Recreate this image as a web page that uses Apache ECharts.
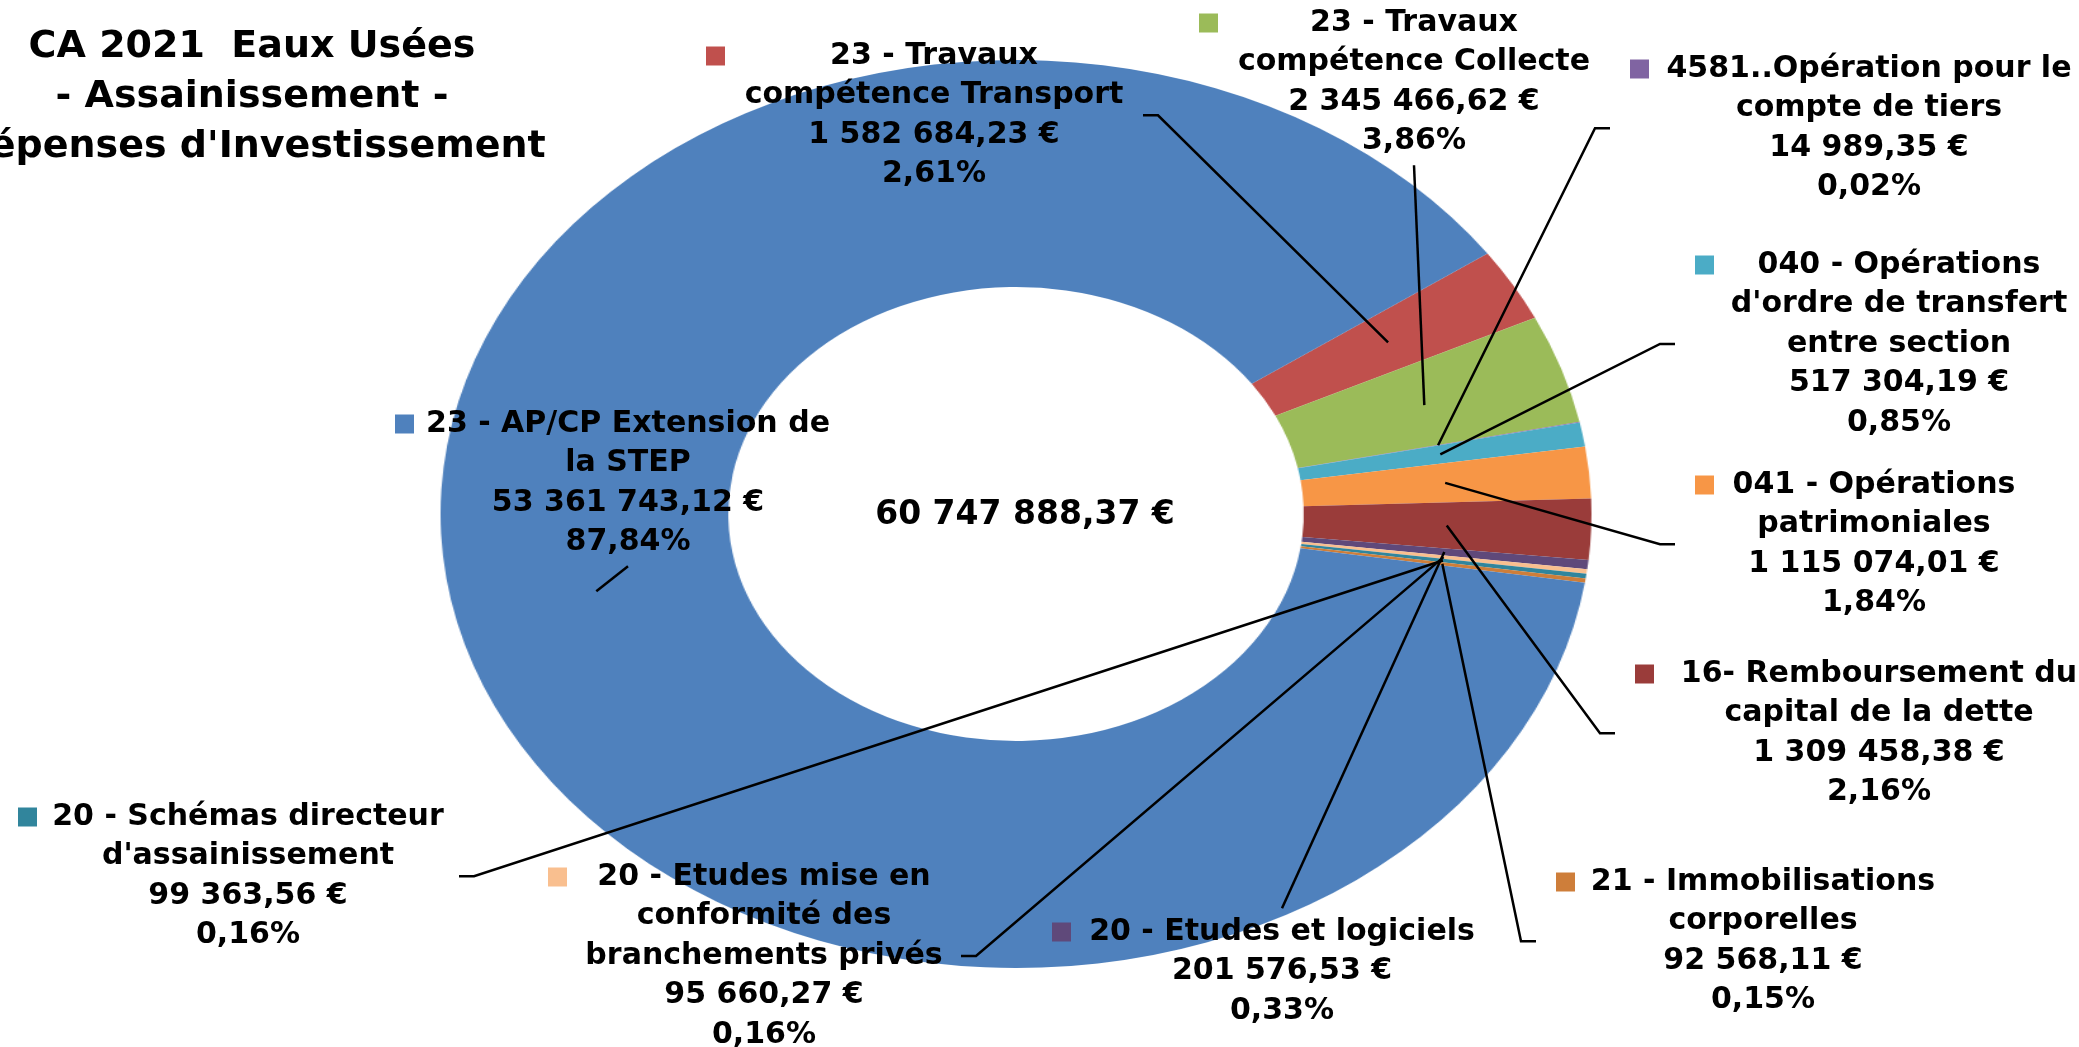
<!DOCTYPE html>
<html>
<head>
<meta charset="utf-8">
<script src="https://cdn.jsdelivr.net/npm/echarts@6/dist/echarts.min.js"></script>
<style>
html, body { margin: 0; padding: 0; background: #fff; overflow: hidden; }
#ring, #main { position: absolute; left: 0; top: 0; width: 2079px; height: 1047px; }
/* the original doughnut is stretched horizontally (ellipse), so the ring layer is scaled */
#ring { transform: scaleX(1.2676); transform-origin: 1016px 514px; }
</style>
</head>
<body>
<div id="ring"></div>
<div id="main"></div>
<script>
// données du graphique
var titleLines = ['CA 2021  Eaux Usées', '- Assainissement -', "Dépenses d'Investissement"];
var names = [
	'23 - Travaux\ncompétence Transport',
	'23 - Travaux\ncompétence Collecte',
	'4581..Opération pour le\ncompte de tiers',
	"040 - Opérations\nd'ordre de transfert\nentre section",
	'041 - Opérations\npatrimoniales',
	'16- Remboursement du\ncapital de la dette',
	'20 - Etudes et logiciels',
	'20 - Etudes mise en\nconformité des\nbranchements privés',
	"20 - Schémas directeur\nd'assainissement",
	'21 - Immobilisations\ncorporelles',
	'23 - AP/CP Extension de\nla STEP'
];
var values = [1582684.23, 2345466.62, 14989.35, 517304.19, 1115074.01, 1309458.38,
	201576.53, 95660.27, 99363.56, 92568.11, 53361743.12];
var percents = ['2,61%', '3,86%', '0,02%', '0,85%', '1,84%', '2,16%',
	'0,33%', '0,16%', '0,16%', '0,15%', '87,84%'];
var totalLabel = '60 747 888,37 €';

var colors = ['#C0504D', '#9BBB59', '#8064A2', '#4BACC6', '#F79646', '#9A3C3A',
	'#5F497A', '#F9BF8F', '#31859C', '#CE7E3A', '#4F81BD'];

// position des étiquettes : [gauche du carré, milieu 1re ligne, largeur du bloc texte]
var labelBoxes = [
	[706, 56, 418], [1199, 23, 392], [1630, 69, 440], [1695, 265, 370],
	[1695, 485, 320], [1635, 674, 450], [1052, 932, 422], [548, 877, 394],
	[18, 817, 422], [1556, 882, 376], [395, 424, 428]
];

var CX = 1016, CY = 514, STRETCH = 575.5 / 454;
var LH = 39.5, FS = 30, FONT = 'DejaVu Sans';

function fmt(v) {
	var s = v.toFixed(2).split('.');
	return s[0].replace(/\B(?=(\d{3})+(?!\d))/g, ' ') + ',' + s[1] + ' €';
}

function makeRich(i) {
	return {
		sq: { width: 19, height: 19, backgroundColor: colors[i], lineHeight: LH },
		sp: { width: 19, lineHeight: LH },
		t: { width: labelBoxes[i][2], align: 'center', fontSize: FS, fontWeight: 'bold',
			fontFamily: FONT, color: '#000', lineHeight: LH }
	};
}

var pieData = names.map(function (n, i) {
	return { name: n, value: values[i] };
});

// anneau (étiré)
var ring = echarts.init(document.getElementById('ring'));
ring.setOption({
	animation: false,
	color: colors,
	series: [{
		type: 'pie',
		center: [CX, CY],
		radius: [227, 454],
		startAngle: 35,
		clockwise: true,
		silent: true,
		label: { show: false },
		labelLine: { show: false },
		data: pieData
	}]
});

// étiquettes, titre et total
var myChart = echarts.init(document.getElementById('main'));
var option = {
	animation: false,
	graphic: [
		{
			type: 'text', x: 252, y: 22,
			style: {
				text: titleLines.join('\n'), align: 'center', textAlign: 'center',
				verticalAlign: 'top', font: 'bold 38px "DejaVu Sans"', lineHeight: 50, fill: '#000'
			}
		},
		{
			type: 'text', x: 1025, y: 515,
			style: {
				text: totalLabel, align: 'center', textAlign: 'center', verticalAlign: 'middle',
				textVerticalAlign: 'middle', font: 'bold 33px "DejaVu Sans"', fill: '#000'
			}
		}
	],
	series: [{
		type: 'pie',
		center: [CX, CY],
		radius: [0, 340],
		startAngle: 35,
		clockwise: true,
		silent: true,
		avoidLabelOverlap: false,
		itemStyle: { color: 'rgba(0,0,0,0)' },
		label: {
			show: true,
			position: 'outside',
			formatter: function (p) {
				var i = p.dataIndex;
				var lines = names[i].split('\n');
				lines.push(fmt(values[i]));
				lines.push(percents[i]);
				return lines.map(function (l, k) {
					return (k === 0 ? '{sq|}' : '{sp|}') + '{t|' + l + '}';
				}).join('\n');
			}
		},
		labelLine: { show: true, length: 10, length2: 10, lineStyle: { color: '#000', width: 2.5 } },
		labelLayout: function (p) {
			var b = labelBoxes[p.dataIndex];
			var n = names[p.dataIndex].split('\n').length + 2;
			var top = b[1] - LH / 2, h = n * LH, mid = top + h / 2;
			var left = b[0], right = b[0] + 19 + b[2], cx = b[0] + 19 + b[2] / 2;
			var p0 = p.labelLinePoints[0];
			var a = [CX + (p0[0] - CX) * STRETCH, p0[1]];
			var pts, e;
			if (a[0] < left - 20) {
				pts = [a, [left - 35, mid], [left - 20, mid]];
			} else if (a[0] > right) {
				pts = [a, [right + 15, mid], [right, mid]];
			} else if (a[1] > top + h) {
				e = [cx, top + h + 4];
				pts = [a, e, e];
			} else {
				e = [cx, top - 4];
				pts = [a, e, e];
			}
			return { x: left, y: top, align: 'left', verticalAlign: 'top', labelLinePoints: pts };
		},
		data: pieData.map(function (d, i) {
			return { name: d.name, value: d.value, label: { rich: makeRich(i) } };
		})
	}]
};
myChart.setOption(option);
</script>
</body>
</html>
